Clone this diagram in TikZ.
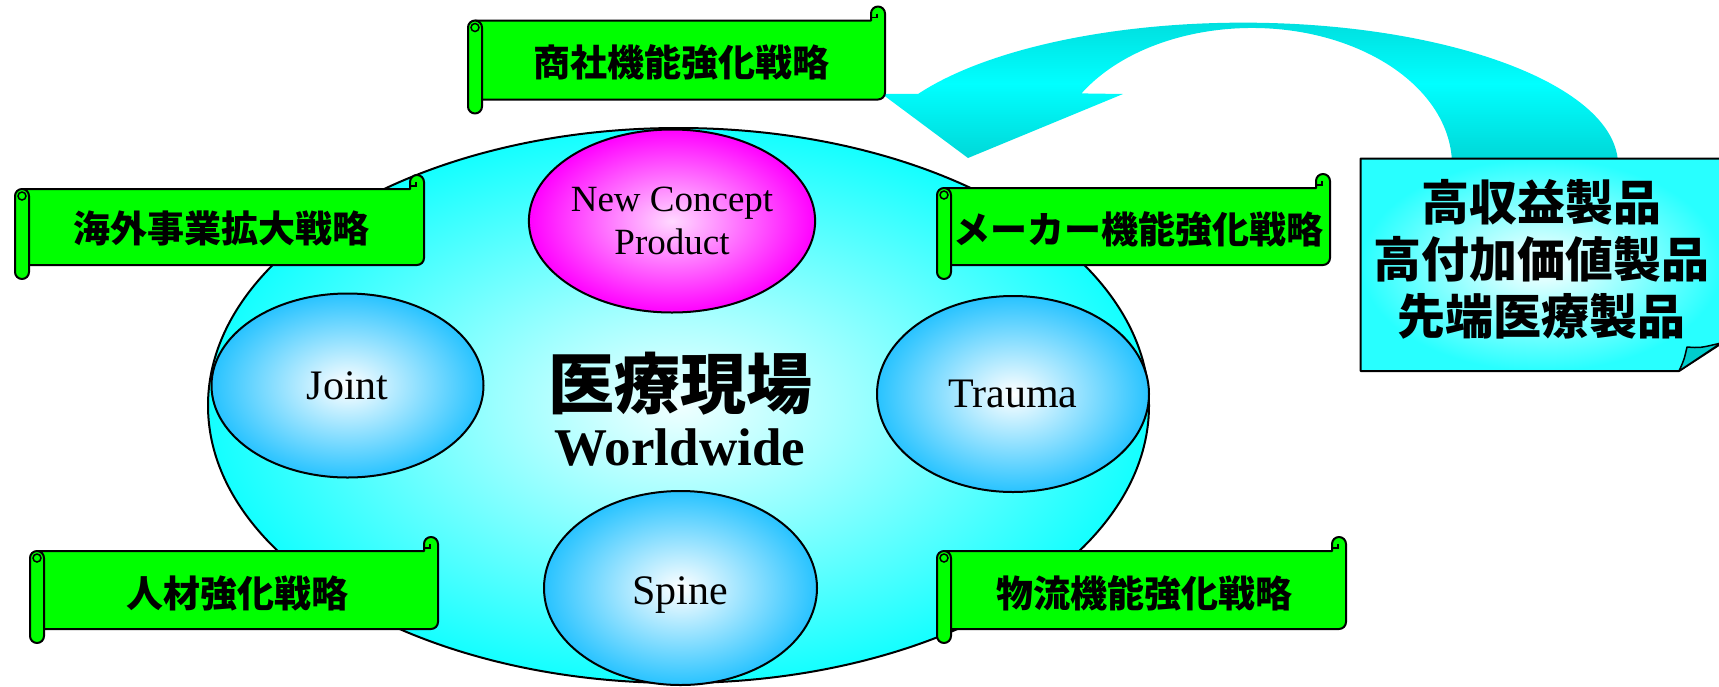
\documentclass[tikz,border=0pt]{standalone}
\usepackage{fontspec}
\setmainfont{Liberation Serif}
\newfontfamily\cjk{Noto Sans CJK JP}
\usetikzlibrary{shapes.geometric}
\definecolor{scrollgreen}{RGB}{0,255,0}
\definecolor{fieldcyan}{RGB}{20,255,255}
\definecolor{fieldcenter}{RGB}{240,255,255}
\definecolor{ballblue}{RGB}{40,195,255}
\definecolor{ballmag}{RGB}{255,0,255}
\definecolor{arrowdark}{RGB}{0,216,216}
\definecolor{arrowlight}{RGB}{0,255,255}
\definecolor{notecyan}{RGB}{40,255,255}
\definecolor{foldcyan}{RGB}{0,205,205}
\tikzset{
  outline/.style={draw=black, line width=2pt},
  ball/.style={ellipse, outline, inner sep=0pt, shade, inner color=white, outer color=ballblue, font=\fontsize{42}{48}\selectfont},
  scrolltext/.style={font=\cjk\bfseries\fontsize{37}{44}\selectfont, inner sep=0pt},
  scrollshape/.style={draw=black, line width=2pt, fill=scrollgreen, line join=round},
  curl/.style={draw=black, line width=1.5pt},
}
% name, l, t, r, b, text, tx, ty
\newcommand\scrollbanner[8]{%
  \draw[scrollshape] ({#2+7},{#3+14}) -- ({#4-14},{#3+14}) -- ({#4-14},{#3+7})
     arc[start angle=180,end angle=360,radius=7] -- ({#4},{#5-21})
     arc[start angle=0,end angle=90,radius=7] -- ({#2+7},{#5-14}) -- cycle;
  \draw[curl] ({#4-8},{#3+7}) -- ({#4-8},{#3+11}) -- ({#4-14},{#3+11});
  \draw[scrollshape] ({#2},{#3+21}) -- ({#2},{#5-7})
     arc[start angle=180,end angle=0,radius=7] -- ({#2+14},{#3+21})
     arc[start angle=0,end angle=-180,radius=7] -- cycle;
  \draw[curl] ({#2+7},{#3+21}) circle[radius=4];
  \node[scrolltext] (#1) at (#7,#8) {#6};
}
\begin{document}
\begin{tikzpicture}[x=1pt,y=-1pt]
\useasboundingbox (0,0) rectangle (1719,686);
% curved arrow
\shade[top color=arrowdark, bottom color=arrowdark, middle color=arrowlight]
  (1617.6,158) arc[start angle=-2.8,end angle=-150,x radius=375,y radius=142.3]
  -- (882,94) -- (968,158) -- (1123,94) -- (1081.5,93.4)
  arc[start angle=-148.5,end angle=-2.9,x radius=200,y radius=137] -- cycle;
% field
\node[ellipse, outline, minimum width=941pt, minimum height=555pt, shade,
      inner color=fieldcenter, outer color=fieldcyan] (field) at (678.5,405.5) {};
\node[ball, inner color=white!85!ballmag, outer color=ballmag, minimum width=258pt, minimum height=183pt,
      align=center, font=\fontsize{37}{43}\selectfont] (ncp) at (672,221) {New Concept\\Product};
\node[ball, minimum width=272pt, minimum height=184pt] (joint) at (347.5,385.5) {Joint};
\node[ball, minimum width=272pt, minimum height=196pt] (trauma) at (1013,394) {Trauma};
\node[ball, minimum width=273pt, minimum height=194pt] (spine) at (680.5,588) {};
\node[font=\fontsize{42}{48}\selectfont] (spinetext) at (680,595) {Spine};
\node[font=\cjk\bfseries\fontsize{66}{70}\selectfont, inner sep=0pt] (genba) at (680,384) {医療現場};
\node[font=\bfseries\fontsize{53}{60}\selectfont, inner sep=0pt] (world) at (680,448) {Worldwide};
% scrolls
\scrollbanner{s1}{468}{6.5}{885}{113.5}{商社機能強化戦略}{681}{62}
\scrollbanner{s2}{15}{175}{424}{279}{海外事業拡大戦略}{221}{228}
\scrollbanner{s3}{937}{174}{1330}{279}{メーカー機能強化戦略}{1138}{229}
\scrollbanner{s4}{30}{537}{438}{643}{人材強化戦略}{237.5}{593}
\scrollbanner{s5}{937}{537}{1346}{643}{物流機能強化戦略}{1144}{593}
% note box
\shade[inner color=white, outer color=notecyan, draw=black, line width=2pt, line join=round]
  (1360.5,158.5) -- (1722,158.5) -- (1722,343) -- (1679,371) -- (1360.5,371) -- cycle;
\draw[fill=foldcyan, draw=black, line width=1.5pt, line join=round]
  (1679,371) .. controls (1684,360) .. (1687,347) .. controls (1700,348) .. (1721,343) -- cycle;
\node[font=\cjk\bfseries\fontsize{48}{57}\selectfont, align=center, inner sep=0pt] (notetext) at (1541,259)
  {高収益製品\\高付加価値製品\\先端医療製品};
\end{tikzpicture}
\end{document}
